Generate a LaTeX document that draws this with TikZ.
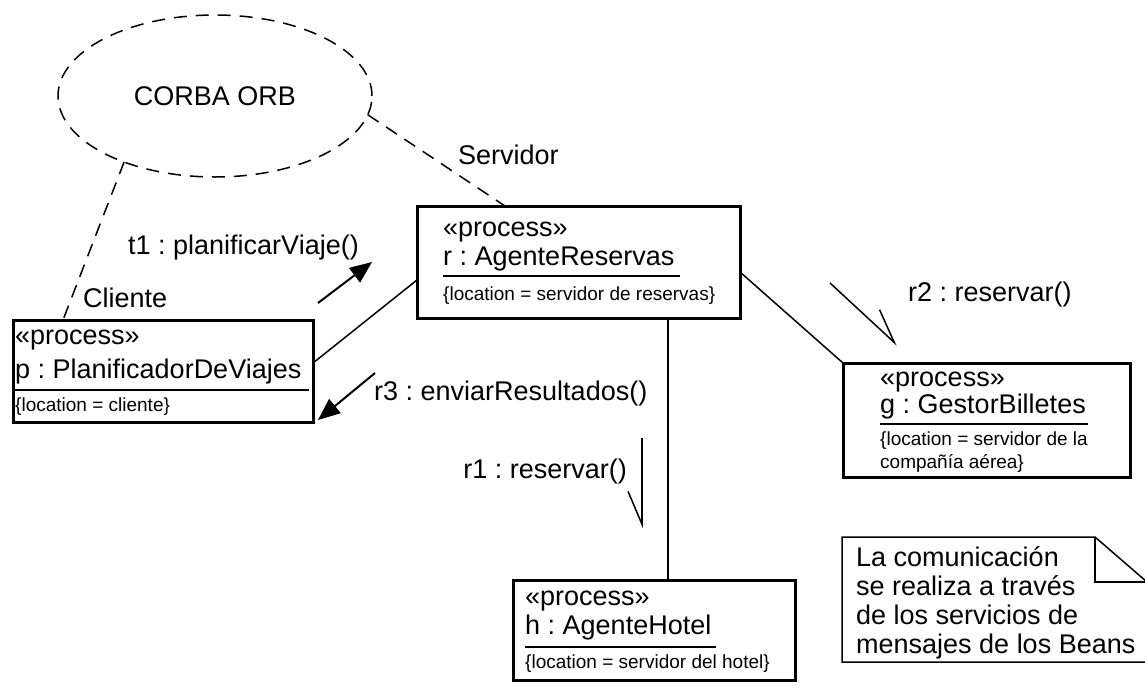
\documentclass[tikz,border=0pt]{standalone}
\usepackage{fontspec}
\setmainfont{Liberation Sans}
\usetikzlibrary{arrows.meta, shapes.geometric, positioning}
\frenchspacing

\tikzset{
  objbox/.style={draw, line width=3pt, anchor=north west, inner sep=0pt, outer sep=0pt},
  bigtxt/.style={font=\fontsize{27}{29}\selectfont, inner sep=0pt, anchor=west},
  smalltxt/.style={font=\fontsize{19}{22}\selectfont, inner sep=0pt, anchor=west},
  link/.style={line width=1.5pt},
  dep/.style={line width=1.5pt, dash pattern=on 13pt off 9pt},
  msg/.style={line width=2pt, -{Triangle[length=22pt,width=18pt]}},
  asyncmsg/.style={line width=1.5pt, -{Straight Barb[harpoon, length=33pt, width=28pt]}},
}

\begin{document}
\begin{tikzpicture}[x=1pt, y=-1pt]
    \useasboundingbox (0,0) rectangle (1145,691);

    % ORB
    \node[draw, dep, ellipse, minimum width=314pt, minimum height=162pt, inner sep=0pt,
          outer sep=0pt, font=\fontsize{27}{29}\selectfont] (orb) at (215,96) {CORBA ORB};

    % Cliente
    \node[objbox, minimum width=300pt, minimum height=102pt] (p) at (13,320) {};
    \node[bigtxt] at (15,340) {«process»};
    \node[bigtxt] at (15,372) {p : PlanificadorDeViajes};
    \draw[link] (15,390) -- (309,390);
    \node[smalltxt] at (15,407) {\{location = cliente\}};

    % AgenteReservas
    \node[objbox, minimum width=323pt, minimum height=112pt] (r) at (417,206) {};
    \node[bigtxt] at (443,232) {«process»};
    \node[bigtxt] at (443,259) {r : AgenteReservas};
    \draw[link] (443,276) -- (680,276);
    \node[smalltxt] at (443,296) {\{location = servidor de reservas\}};

    % GestorBilletes
    \node[objbox, minimum width=287pt, minimum height=114pt] (g) at (843,363) {};
    \node[bigtxt] at (880,382) {«process»};
    \node[bigtxt] at (880,407) {g : GestorBilletes};
    \draw[link] (880,424) -- (1088,424);
    \node[smalltxt] at (880,441) {\{location = servidor de la};
    \node[smalltxt] at (880,463) {compañía aérea\}};

    % AgenteHotel
    \node[objbox, minimum width=282pt, minimum height=100pt] (h) at (513,580) {};
    \node[bigtxt] at (525,601) {«process»};
    \node[bigtxt] at (525,628) {h : AgenteHotel};
    \draw[link] (525,647) -- (716,647);
    \node[smalltxt] at (525,664) {\{location = servidor del hotel\}};

    % Note
    \draw[link] (842,537) -- (1095,537) -- (1147,582) -- (1147,662) -- (842,662) -- cycle;
    \draw[link] (1095,537) -- (1095,582) -- (1147,582);
    \node[bigtxt, anchor=north west, align=left] (note) at (856,546)
        {La comunicación\\se realiza a través\\de los servicios de\\mensajes de los Beans};

    % Links
    \draw[dep] (orb.216) -- ([xshift=50pt]p.north west);
    \draw[dep] (orb.-7) -- ([xshift=88pt]r.north west);
    \draw[link] ([yshift=-43pt]p.north east) -- ([yshift=-74pt]r.north west);
    \draw[link] ([yshift=-66pt]r.north east) -- (g.north west);
    \draw[link] ([xshift=251pt]r.south west) -- ([xshift=155pt]h.north west);

    % Role names
    \node[bigtxt] (cli) at (83,298) {Cliente};
    \node[bigtxt] (srv) at (458,155) {Servidor};

    % Messages
    \coordinate (t1a) at (318,303);
    \coordinate (t1b) at (372,262);
    \draw[msg] (t1a) -- (t1b);
    \node[bigtxt] (t1) at (128,248) {t1 : planificarViaje()};

    \coordinate (r3a) at (375,373);
    \coordinate (r3b) at (318,420);
    \draw[msg] (r3a) -- (r3b);
    \node[bigtxt] (r3) at (374,394) {r3 : enviarResultados()};

    \coordinate (r1a) at (642,438);
    \coordinate (r1b) at (642,528);
    \draw[asyncmsg, -{Straight Barb[harpoon, swap, length=33pt, width=28pt]}] (r1a) -- (r1b);
    \node[bigtxt, anchor=east] (r1) at (627,472) {r1 : reservar()};

    \coordinate (r2a) at (830,283);
    \coordinate (r2b) at (897,345);
    \draw[asyncmsg] (r2a) -- (r2b);
    \node[bigtxt] (r2) at (908,295) {r2 : reservar()};
\end{tikzpicture}
\end{document}
